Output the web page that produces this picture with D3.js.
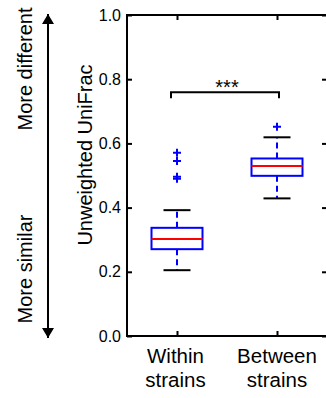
<!DOCTYPE html>
<html><head><meta charset="utf-8">
<script src="https://cdn.jsdelivr.net/npm/d3@7/dist/d3.min.js"></script>
<style>body{margin:0;background:#fff}svg{display:block}text{font-family:"Liberation Sans",Arial,sans-serif}</style>
</head><body>
<script>
const categories = ["Within strains", "Between strains"];
const categoryLines = [["Within", "strains"], ["Between", "strains"]];
const q1 = [0.2705, 0.499];
const medians = [0.302, 0.5295];
const q3 = [0.337, 0.553];
const whiskerLow = [0.205, 0.4287];
const whiskerHigh = [0.392, 0.619];
const outliers = [[0.571, 0.545, 0.496, 0.490], [0.652]];
const yTicks = [0, 0.2, 0.4, 0.6, 0.8, 1.0];
const yLabel = "Unweighted UniFrac";
const sigLabel = "***";
const arrowTop = "More different", arrowBottom = "More similar";

const W = 326, H = 398;
const svg = d3.select("body").append("svg").attr("width", W).attr("height", H);
const x = d3.scalePoint().domain(categories).range([127, 327]).padding(0.5);
const y = d3.scaleLinear().domain([0, 1]).range([336, 15]);
const L = 127, R = 327, T = 15, B = 336;

// axes
const gl = svg.append("g").attr("transform", `translate(${L},0)`)
  .call(d3.axisLeft(y).tickValues(yTicks).tickFormat(d3.format(".1f")).tickSize(-5).tickPadding(6));
const gr = svg.append("g").attr("transform", `translate(${R},0)`)
  .call(d3.axisRight(y).tickValues(yTicks).tickFormat("").tickSize(-5));
const gt = svg.append("g").attr("transform", `translate(0,${T})`)
  .call(d3.axisTop(x).tickFormat("").tickSize(-5));
const gb = svg.append("g").attr("transform", `translate(0,${B})`)
  .call(d3.axisBottom(x).tickFormat("").tickSize(-5));
[gl, gr, gt, gb].forEach(g => {
  g.select(".domain").remove();
  g.selectAll(".tick line").attr("stroke", "#000").attr("stroke-width", 2);
});
gl.selectAll(".tick text").attr("font-size", 16).attr("fill", "#000").attr("font-family", "Liberation Sans, Arial, sans-serif");
svg.append("rect").attr("x", L).attr("y", T).attr("width", R - L).attr("height", B - T)
  .attr("fill", "none").attr("stroke", "#000").attr("stroke-width", 2);

// category labels
categories.forEach((c, i) => {
  const t = svg.append("text").attr("x", x(c)).attr("y", 363).attr("text-anchor", "middle")
    .attr("font-size", 20.5).attr("fill", "#000");
  categoryLines[i].forEach((ln, j) => t.append("tspan").attr("x", x(c) - (i ? 0 : 1.5)).attr("dy", j ? 24 : 0).text(ln));
});

// boxes
const bw = 51, cw = 27;
categories.forEach((c, i) => {
  const cx = x(c);
  const g = svg.append("g");
  g.append("line").attr("x1", cx).attr("x2", cx).attr("y1", y(q3[i])).attr("y2", y(whiskerHigh[i]))
    .attr("stroke", "#0000ff").attr("stroke-width", 2).attr("stroke-dasharray", "6,4");
  g.append("line").attr("x1", cx).attr("x2", cx).attr("y1", y(q1[i])).attr("y2", y(whiskerLow[i]))
    .attr("stroke", "#0000ff").attr("stroke-width", 2).attr("stroke-dasharray", "6,4");
  [whiskerHigh[i], whiskerLow[i]].forEach(v => g.append("line")
    .attr("x1", cx - cw / 2).attr("x2", cx + cw / 2).attr("y1", y(v)).attr("y2", y(v))
    .attr("stroke", "#000").attr("stroke-width", 2));
  g.append("rect").attr("x", cx - bw / 2).attr("y", y(q3[i])).attr("width", bw).attr("height", y(q1[i]) - y(q3[i]))
    .attr("fill", "none").attr("stroke", "#0000ff").attr("stroke-width", 2);
  g.append("line").attr("x1", cx - bw / 2).attr("x2", cx + bw / 2).attr("y1", y(medians[i])).attr("y2", y(medians[i]))
    .attr("stroke", "#ff0000").attr("stroke-width", 2);
  outliers[i].forEach(v => {
    g.append("path").attr("d", `M${cx - 4},${y(v)}h8M${cx},${y(v) - 4}v8`)
      .attr("stroke", "#0000ff").attr("stroke-width", 2).attr("fill", "none");
  });
});

// significance bracket
const by = y(0.759);
svg.append("path").attr("d", `M${x(categories[0]) - 6},${by + 6}V${by}H${x(categories[1]) + 2}V${by + 6}`)
  .attr("fill", "none").attr("stroke", "#000").attr("stroke-width", 2);
svg.append("text").attr("x", (x(categories[0]) + x(categories[1])) / 2).attr("y", by + 2)
  .attr("text-anchor", "middle").attr("font-size", 20).attr("fill", "#000").text(sigLabel);

// y label
svg.append("text").attr("transform", `translate(92,155) rotate(-90)`).attr("text-anchor", "middle")
  .attr("font-size", 20).attr("fill", "#000").text(yLabel);

// arrow
svg.append("defs").append("marker").attr("id", "ah").attr("viewBox", "0 0 10 12")
  .attr("refX", 10).attr("refY", 6).attr("markerWidth", 10).attr("markerHeight", 12)
  .attr("markerUnits", "userSpaceOnUse").attr("orient", "auto")
  .append("path").attr("d", "M0,0L10,6L0,12Z").attr("fill", "#000");
svg.append("line").attr("x1", 48).attr("x2", 48).attr("y1", 176).attr("y2", 14)
  .attr("stroke", "#000").attr("stroke-width", 2).attr("marker-end", "url(#ah)");
svg.append("line").attr("x1", 48).attr("x2", 48).attr("y1", 176).attr("y2", 338)
  .attr("stroke", "#000").attr("stroke-width", 2).attr("marker-end", "url(#ah)");
svg.append("text").attr("transform", `translate(32,69) rotate(-90)`).attr("text-anchor", "middle")
  .attr("font-size", 20).attr("fill", "#000").text(arrowTop);
svg.append("text").attr("transform", `translate(32,269) rotate(-90)`).attr("text-anchor", "middle")
  .attr("font-size", 20).attr("fill", "#000").text(arrowBottom);
</script>
</body></html>
